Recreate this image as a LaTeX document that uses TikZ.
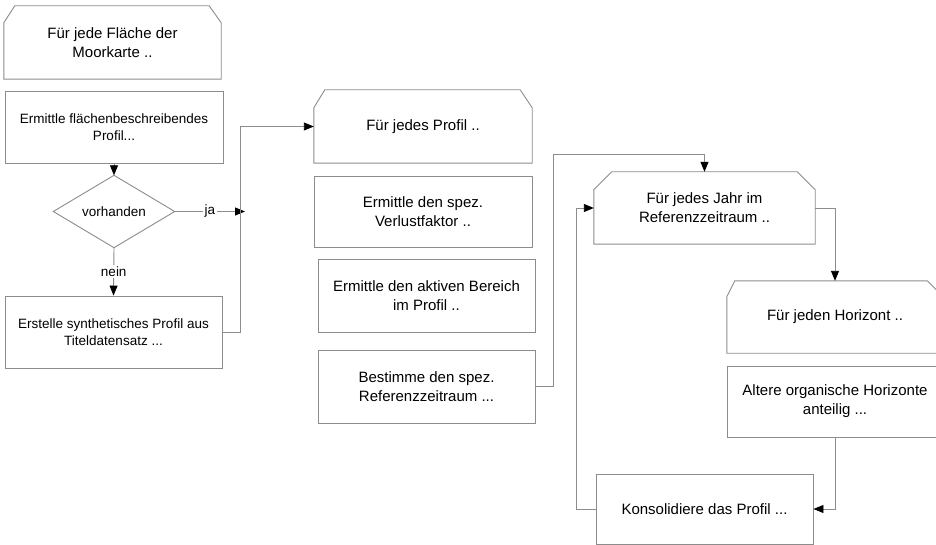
\documentclass[tikz,border=0pt]{standalone}
\usepackage{fontspec}
\setmainfont{Liberation Sans}
\usetikzlibrary{arrows.meta}
\definecolor{edge}{RGB}{140,140,140}
\tikzset{
  box/.style={draw=edge, line width=0.9pt, align=center, inner sep=0pt,
    font=\fontsize{15}{19}\selectfont},
  smallbox/.style={box, font=\fontsize{13.5}{17}\selectfont},
  loopbox/.style={align=center, inner sep=0pt, font=\fontsize{15}{19}\selectfont},
  shapeline/.style={draw=edge, line width=0.9pt},
  conn/.style={draw=edge, line width=0.9pt, -{Triangle[length=10pt,width=8pt,color=black]}},
  lbl/.style={fill=white, inner sep=1.5pt, font=\fontsize{13.5}{17}\selectfont}
}
\newcommand\loopshape[4]{%
  \draw[shapeline] (#1.south west) -- ([yshift=-#4pt]#1.north west)
    -- ([xshift=#2pt]#1.north west) -- ([xshift=-#3pt]#1.north east)
    -- ([yshift=-#4pt]#1.north east) -- (#1.south east) -- cycle;}
\begin{document}
\begin{tikzpicture}[x=1pt,y=-1pt]
\path[use as bounding box, clip] (0,0) rectangle (936,545);
\fill[white] (0,0) rectangle (936,545);

% left column
\node[loopbox, minimum width=217pt, minimum height=73pt] (n1) at (112.5,42.5) {Für jede Fläche der\\Moorkarte ..};
\loopshape{n1}{11}{12}{17}
\node[smallbox, minimum width=218pt, minimum height=72pt] (n2) at (114,127) {Ermittle flächenbeschreibendes\\Profil...};
\node[minimum width=121pt, minimum height=72pt, inner sep=0pt, font=\fontsize{13.5}{17}\selectfont] (dia) at (114,211.5) {vorhanden};
\draw[shapeline] (dia.north) -- (dia.east) -- (dia.south) -- (dia.west) -- cycle;
\node[smallbox, minimum width=217pt, minimum height=72pt] (n3) at (113.5,332) {Erstelle synthetisches Profil aus\\Titeldatensatz ...};

% middle column
\node[loopbox, minimum width=218pt, minimum height=73pt] (p1) at (423,126.5) {Für jedes Profil ..};
\loopshape{p1}{11}{12}{18}
\node[box, minimum width=218pt, minimum height=71pt] (p2) at (423,211.5) {Ermittle den spez.\\Verlustfaktor ..};
\node[box, minimum width=217pt, minimum height=73pt] (p3) at (426.5,295.5) {Ermittle den aktiven Bereich\\im Profil ..};
\node[box, minimum width=217pt, minimum height=73pt] (p4) at (426.5,386.5) {Bestimme den spez.\\Referenzzeitraum ...};

% right part
\node[loopbox, minimum width=221pt, minimum height=72pt] (j1) at (704.5,208) {Für jedes Jahr im\\Referenzzeitraum ..};
\loopshape{j1}{18}{18}{18}
\node[loopbox, minimum width=216pt, minimum height=72pt] (h1) at (835,317) {Für jeden Horizont ..};
\loopshape{h1}{8}{16}{16}
\node[box, minimum width=216pt, minimum height=71pt] (h2) at (835,401.5) {Altere organische Horizonte\\anteilig ...};
\node[box, minimum width=217pt, minimum height=70pt] (k1) at (704.5,509) {Konsolidiere das Profil ...};

% helper coordinates
\coordinate (jaend) at (245,211.5);
\coordinate (c1) at (240,0);
\coordinate (c2) at (553,0);
\coordinate (c3) at (0,154);
\coordinate (c4) at (576,0);

% connectors
\draw[conn] (n2.south) -- (dia.north);
\draw[conn] (dia.east) -- node[lbl]{ja} (jaend);
\draw[conn] (dia.south) -- node[lbl]{nein} (n3.north);
\draw[conn] (n3.east) -- (n3.east -| c1) |- (p1.west);
\draw[conn] (p4.east) -- (p4.east -| c2) |- (c3 -| j1.north) -- (j1.north);
\draw[conn] (j1.east) -| (h1.north);
\draw[conn] (h2.south) |- (k1.east);
\draw[conn] (k1.west) -- (k1.west -| c4) |- (j1.west);
\end{tikzpicture}
\end{document}
